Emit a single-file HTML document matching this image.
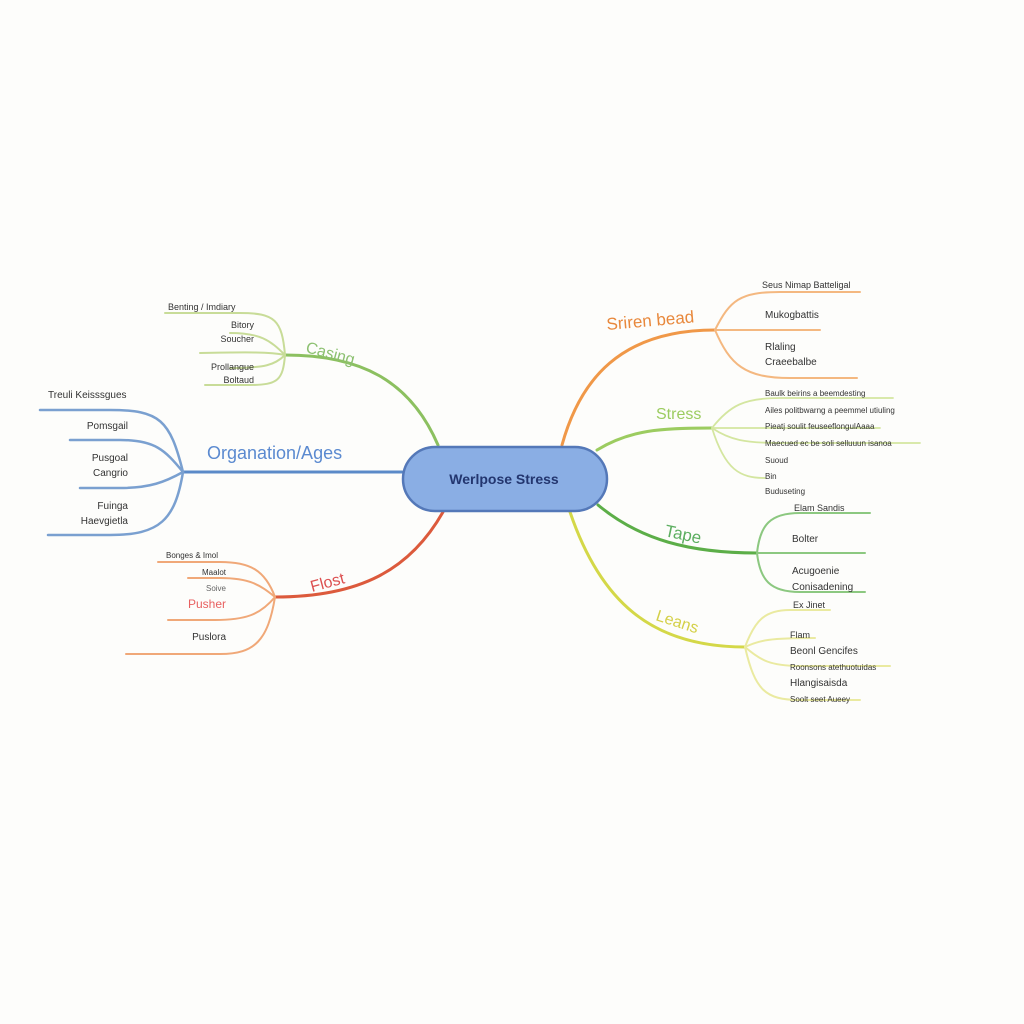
<!DOCTYPE html>
<html><head><meta charset="utf-8"><style>
html,body{margin:0;padding:0;background:#fdfdfb;}
svg{display:block}
text{font-family:"Liberation Sans",sans-serif;}
</style></head><body>
<svg width="1024" height="1024" viewBox="0 0 1024 1024" xmlns="http://www.w3.org/2000/svg">
<rect width="1024" height="1024" fill="#fdfdfb"/>
<g fill="none" stroke-linecap="round">
<path d="M438 445 C410 380 360 355 285 355" stroke="#8cc060" stroke-width="3"/>
<g stroke="#c8dc98" stroke-width="2">
<path d="M285 355 C282 320 275 313 240 313 L165 313"/>
<path d="M285 355 C270 340 260 333 230 333"/>
<path d="M285 355 C270 352 250 352 200 353"/>
<path d="M285 355 C275 365 265 368 230 368"/>
<path d="M285 355 C283 380 278 385 250 385 L205 385"/>
</g>
<path d="M402 472 L183 472" stroke="#5b8ac8" stroke-width="3"/>
<g stroke="#7aa0d0" stroke-width="2.5">
<path d="M183 472 C170 420 160 410 110 410 L40 410"/>
<path d="M183 472 C165 450 155 440 120 440 L70 440"/>
<path d="M183 472 C165 482 150 488 120 488 L80 488"/>
<path d="M183 472 C175 520 160 535 110 535 L48 535"/>
</g>
<path d="M443 512 C410 570 360 597 275 597" stroke="#dc5a3c" stroke-width="3"/>
<g stroke="#f0a878" stroke-width="2">
<path d="M275 597 C265 570 250 562 220 562 L158 562"/>
<path d="M275 597 C260 585 250 578 220 578 L188 578"/>
<path d="M275 597 C260 615 245 620 215 620 L168 620"/>
<path d="M275 597 C268 640 255 654 220 654 L126 654"/>
</g>
<path d="M562 445 C580 380 620 330 715 330" stroke="#f09848" stroke-width="3"/>
<g stroke="#f4b880" stroke-width="2">
<path d="M715 330 C730 300 740 292 780 292 L860 292"/>
<path d="M715 330 L820 330"/>
<path d="M715 330 C730 365 745 378 790 378 L857 378"/>
</g>
<path d="M597 450 C630 430 660 428 712 428" stroke="#9ccc60" stroke-width="3"/>
<g stroke="#d4e6a0" stroke-width="1.8">
<path d="M712 428 C730 405 745 398 780 398 L893 398"/>
<path d="M712 428 L880 428"/>
<path d="M712 428 C730 440 745 443 780 443 L920 443"/>
<path d="M712 428 C725 470 740 478 765 478"/>
</g>
<path d="M598 505 C640 540 690 553 757 553" stroke="#5cae48" stroke-width="3"/>
<g stroke="#8cc880" stroke-width="2">
<path d="M757 553 C760 525 770 513 800 513 L870 513"/>
<path d="M757 553 L865 553"/>
<path d="M757 553 C760 580 770 592 800 592 L865 592"/>
</g>
<path d="M570 512 C600 600 650 647 745 647" stroke="#d4d848" stroke-width="3"/>
<g stroke="#eaeaa0" stroke-width="2">
<path d="M745 647 C755 620 765 610 790 610 L830 610"/>
<path d="M745 647 C760 640 770 638 815 638"/>
<path d="M745 647 C760 660 770 666 800 666 L890 666"/>
<path d="M745 647 C755 690 765 700 800 700 L860 700"/>
</g>
</g>
<rect x="403" y="447" width="204" height="64" rx="32" fill="#8aaee4" stroke="#5478b8" stroke-width="2.5"/>
<text x="504" y="484" text-anchor="middle" font-size="14" font-weight="bold" fill="#23366f">Werlpose Stress</text>
<text x="305" y="352" font-size="16" fill="#8cc070" transform="rotate(15 305 352)">Casing</text>
<text x="207" y="459" font-size="18" fill="#5b8ad0">Organation/Ages</text>
<text x="312" y="592" font-size="16" fill="#dc5050" transform="rotate(-15 312 592)">Flost</text>
<text x="607" y="330" font-size="17" fill="#e8883c" transform="rotate(-5 607 330)">Sriren bead</text>
<text x="656" y="419" font-size="16" fill="#9ccc60">Stress</text>
<text x="664" y="536" font-size="17" fill="#5cae60" transform="rotate(12 664 536)">Tape</text>
<text x="655" y="620" font-size="16" fill="#d4d048" transform="rotate(18 655 620)">Leans</text>
<g font-size="9" fill="#333">
<text x="168" y="310">Benting / Imdiary</text>
<text x="254" y="328" text-anchor="end">Bitory</text>
<text x="254" y="342" text-anchor="end">Soucher</text>
<text x="254" y="370" text-anchor="end">Prollangue</text>
<text x="254" y="383" text-anchor="end">Boltaud</text>
<text x="48" y="398" font-size="10">Treuli Keisssgues</text>
<text x="128" y="429" text-anchor="end" font-size="10">Pomsgail</text>
<text x="128" y="461" text-anchor="end" font-size="10">Pusgoal</text>
<text x="128" y="476" text-anchor="end" font-size="10">Cangrio</text>
<text x="128" y="509" text-anchor="end" font-size="10">Fuinga</text>
<text x="128" y="524" text-anchor="end" font-size="10">Haevgietla</text>
<text x="166" y="558" font-size="8">Bonges &amp; Imol</text>
<text x="226" y="575" text-anchor="end" font-size="8">Maalot</text>
<text x="226" y="591" text-anchor="end" font-size="8" fill="#666">Soive</text>
<text x="226" y="608" text-anchor="end" font-size="12" fill="#e86060">Pusher</text>
<text x="226" y="640" text-anchor="end" font-size="10">Puslora</text>
<text x="762" y="288">Seus Nimap Batteligal</text>
<text x="765" y="318" font-size="10">Mukogbattis</text>
<text x="765" y="350" font-size="10">Rlaling</text>
<text x="765" y="365" font-size="10">Craeebalbe</text>
<text x="765" y="396" font-size="8">Baulk beirins a beemdesting</text>
<text x="765" y="413" font-size="8">Ailes politbwarng a peemmel utiuling</text>
<text x="765" y="429" font-size="8">Pieatj soulit feuseeflongulAaaa</text>
<text x="765" y="446" font-size="8">Maecued ec be soli selluuun isanoa</text>
<text x="765" y="463" font-size="8">Suoud</text>
<text x="765" y="479" font-size="8">Bin</text>
<text x="765" y="494" font-size="8">Buduseting</text>
<text x="794" y="511" font-size="9">Elam Sandis</text>
<text x="792" y="542" font-size="10">Bolter</text>
<text x="792" y="574" font-size="10">Acugoenie</text>
<text x="792" y="590" font-size="10">Conisadening</text>
<text x="793" y="608" font-size="9">Ex Jinet</text>
<text x="790" y="638" font-size="9">Flam</text>
<text x="790" y="654" font-size="10">Beonl Gencifes</text>
<text x="790" y="670" font-size="8">Roonsons atethuotuidas</text>
<text x="790" y="686" font-size="10">Hlangisaisda</text>
<text x="790" y="702" font-size="8">Soolt seet Aueey</text>
</g>
</svg>
</body></html>
